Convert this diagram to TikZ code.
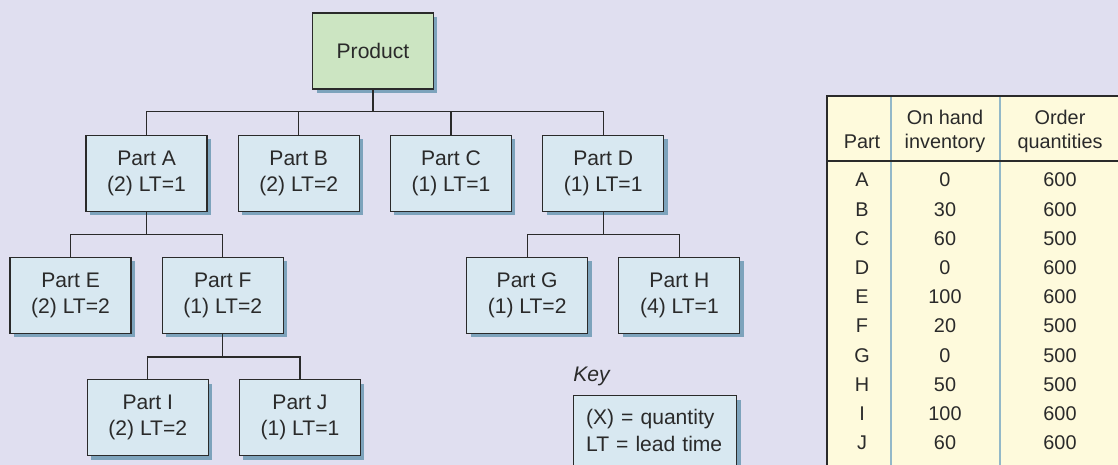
\documentclass[tikz,border=0pt]{standalone}
\usepackage{fontspec}
\setmainfont{Liberation Sans}
\usetikzlibrary{positioning,shadows}

\definecolor{pagebg}{HTML}{E0DFF0}
\definecolor{prodgreen}{HTML}{CCE5C2}
\definecolor{partblue}{HTML}{D8E8F1}
\definecolor{shadowblue}{HTML}{7DA3BC}
\definecolor{tablecream}{HTML}{FEFADC}
\definecolor{colrule}{HTML}{93B8C8}
\definecolor{inkgray}{HTML}{2A2A2A}

\begin{document}
\begin{tikzpicture}[x=0.02cm,y=-0.02cm,
  part/.style={rectangle,draw=inkgray,line width=0.7pt,fill=partblue,
               minimum width=2.42cm,minimum height=1.52cm,align=center,
               text=inkgray,font=\fontsize{12}{15}\selectfont,
               drop shadow={shadow xshift=0.08cm,shadow yshift=-0.08cm,
                            fill=shadowblue,opacity=1}},
  link/.style={draw=inkgray,line width=0.7pt},
  cell/.style={inner sep=0pt,align=center,text=inkgray,
               font=\fontsize{11.3}{13.6}\selectfont}]

\useasboundingbox (0,0) rectangle (1118,465);
\clip (0,0) rectangle (1118,465);
\fill[pagebg] (0,0) rectangle (1118,465);

% product structure tree
\node[part,fill=prodgreen] (prod) at (373,51) {Product};
\node[part,below=0.9cm of prod,xshift=-4.53cm] (pa) {Part A\\(2) LT=1};
\node[part,right=0.6cm of pa] (pb) {Part B\\(2) LT=2};
\node[part,right=0.6cm of pb] (pc) {Part C\\(1) LT=1};
\node[part,right=0.6cm of pc] (pd) {Part D\\(1) LT=1};
\node[part,below=0.9cm of pa,xshift=-1.52cm] (pe) {Part E\\(2) LT=2};
\node[part,right=0.6cm of pe] (pf) {Part F\\(1) LT=2};
\node[part,below=0.9cm of pd,xshift=-1.52cm] (pg) {Part G\\(1) LT=2};
\node[part,right=0.6cm of pg] (ph) {Part H\\(4) LT=1};
\node[part,below=0.9cm of pf,xshift=-1.5cm] (pi) {Part I\\(2) LT=2};
\node[part,right=0.6cm of pi] (pj) {Part J\\(1) LT=1};

\foreach \n in {pa,pb,pc,pd}
  \draw[link] (prod.south) -- ++(0,22) -| (\n.north);
\foreach \n in {pe,pf}
  \draw[link] (pa.south) -- ++(0,23) -| (\n.north);
\foreach \n in {pg,ph}
  \draw[link] (pd.south) -- ++(0,23) -| (\n.north);
\foreach \n in {pi,pj}
  \draw[link] (pf.south) -- ++(0,23) -| (\n.north);

% key
\node[anchor=base west,inner sep=0pt,text=inkgray,
      font=\fontsize{12}{15}\selectfont\itshape] (keylabel) at (573,381) {Key};
\node[part,anchor=north west,minimum width=0pt,minimum height=0pt,align=left,
      text width=2.76cm,inner xsep=0.25cm,inner ysep=0.27cm,
      font=\fontsize{12}{15.6}\selectfont] (key) at (573,395)
  {(X) = quantity\\LT = lead time\\~};

% inventory table
\fill[tablecream] (827,96) rectangle (1130,480);
\draw[colrule,line width=0.7pt] (891,96) -- (891,480) (1000,96) -- (1000,480);
\draw[inkgray,line width=1pt] (1130,96) -- (827,96) -- (827,480)
  (827,161) -- (1130,161);

\node[cell,anchor=south,text depth=0pt] (hpart) at (862,149) {Part};
\node[cell,anchor=south,text depth=0pt] (hstock) at (945,149) {On hand\\inventory};
\node[cell,anchor=south,text depth=0pt] (horder) at (1060,149) {Order\\quantities};

\foreach \p/\h/\q [count=\i] in {A/0/600,B/30/600,C/60/500,D/0/600,E/100/600,
    F/20/500,G/0/500,H/50/500,I/100/600,J/60/600} {
  \node[cell,anchor=base] (rp\i) at (862,{157.8+29.2*\i}) {\p};
  \node[cell,anchor=base] (rh\i) at (945,{157.8+29.2*\i}) {\h};
  \node[cell,anchor=base] (rq\i) at (1060,{157.8+29.2*\i}) {\q};
}
\end{tikzpicture}
\end{document}
